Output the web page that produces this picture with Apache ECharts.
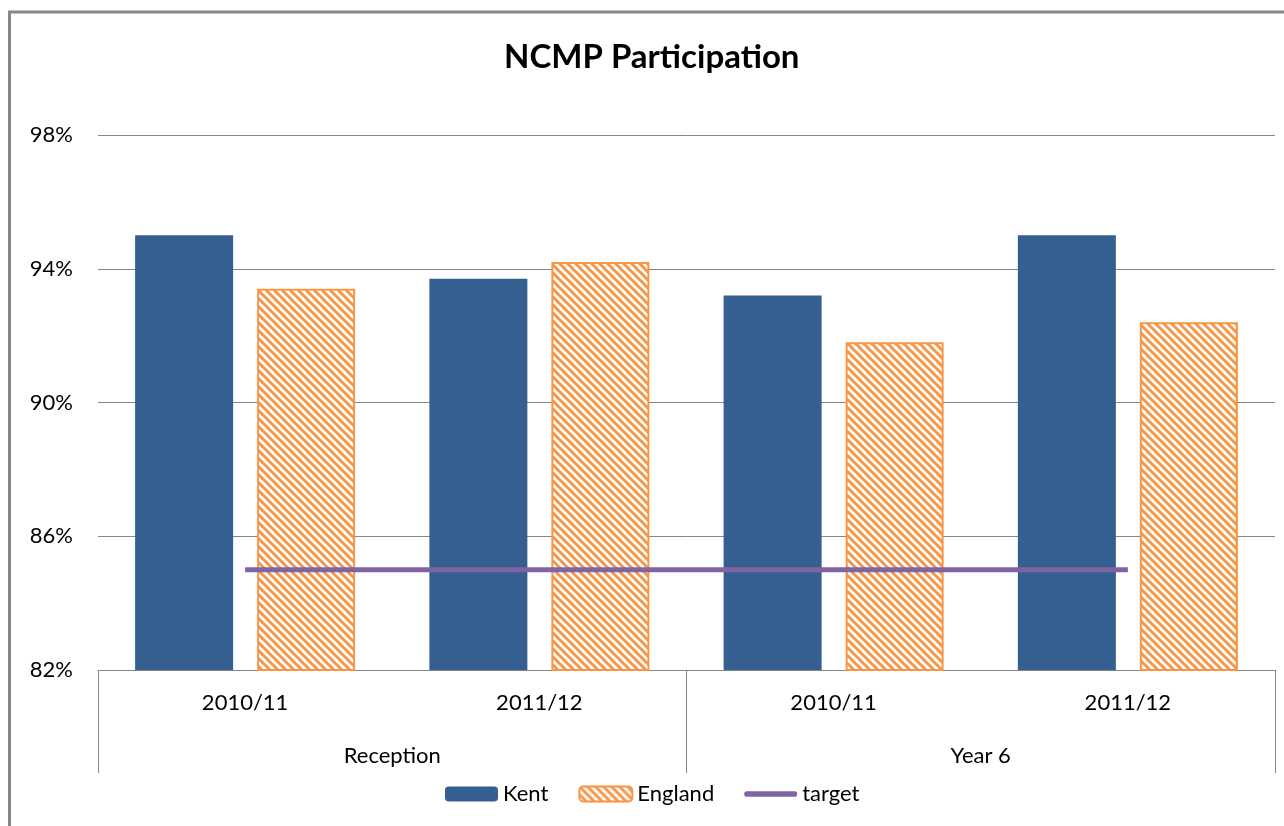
<!DOCTYPE html>
<html>
<head>
<meta charset="utf-8">
<script src="https://cdn.jsdelivr.net/npm/echarts@6/dist/echarts.min.js"></script>
<style>
html,body{margin:0;padding:0;background:#fff;}
#chart{width:1284px;height:826px;}
</style>
</head>
<body>
<div id="chart"></div>
<script>
var years = ['2010/11', '2011/12', '2010/11', '2011/12'];
var groups = ['Reception', 'Year 6'];
var kent = [95.0, 93.7, 93.2, 95.0];
var england = [93.4, 94.2, 91.8, 92.4];
var target = [85, 85, 85, 85];

var FONT = 'Lato, "Open Sans", sans-serif';
var GRAY = '#868686';

// hatched pattern for England
var tile = document.createElement('canvas');
tile.width = 8; tile.height = 8;
var ctx = tile.getContext('2d');
ctx.fillStyle = '#ffffff';
ctx.fillRect(0, 0, 8, 8);
ctx.strokeStyle = '#F79646';
ctx.lineWidth = 3;
for (var k = -8; k <= 8; k += 8) {
  ctx.beginPath();
  ctx.moveTo(k - 1, -1);
  ctx.lineTo(k + 9, 9);
  ctx.stroke();
}

var chart = echarts.init(document.getElementById('chart'), null, {renderer: 'canvas'});
chart.setOption({
  backgroundColor: '#ffffff',
  animation: false,
  title: {
    text: 'NCMP Participation',
    left: 504,
    top: 41,
    padding: 0,
    textStyle: {fontFamily: FONT, fontSize: 33, fontWeight: 'bold', color: '#000'}
  },
  graphic: [{
    type: 'rect',
    silent: true,
    shape: {x: 9.5, y: 12, width: 1400, height: 900},
    style: {fill: 'none', stroke: GRAY, lineWidth: 3}
  }],
  legend: {
    left: 445,
    top: 783,
    padding: 0,
    itemWidth: 53,
    itemHeight: 15,
    itemGap: 30,
    textStyle: {fontFamily: FONT, fontSize: 22, color: '#000'},
    data: [
      {name: 'Kent'},
      {name: 'England'},
      {name: 'target', icon: 'path://M3,0 L53,0 A3,3 0 0 1 53,6 L3,6 A3,3 0 0 1 3,0 Z', itemStyle: {color: '#8064A2'}}
    ]
  },
  grid: {left: 98, right: 9, top: 135, bottom: 156, containLabel: false},
  xAxis: [{
    type: 'category',
    data: years,
    position: 'bottom',
    axisLine: {show: true, lineStyle: {color: GRAY, width: 1}},
    axisTick: {show: false},
    axisLabel: {fontFamily: FONT, fontSize: 22, color: '#000', margin: 22},
    splitLine: {show: false}
  }, {
    type: 'category',
    data: groups,
    position: 'bottom',
    axisLine: {show: false},
    axisTick: {show: true, length: 103, lineStyle: {color: GRAY, width: 1}},
    axisLabel: {fontFamily: FONT, fontSize: 22, color: '#000', margin: 75},
    splitLine: {show: false}
  }],
  yAxis: {
    type: 'value',
    min: 82,
    max: 98,
    interval: 4,
    axisLine: {show: false},
    axisTick: {show: false},
    axisLabel: {fontFamily: FONT, fontSize: 22, color: '#000', margin: 25, formatter: '{value}%'},
    splitLine: {show: true, lineStyle: {color: GRAY, width: 1}}
  },
  series: [{
    name: 'Kent',
    type: 'bar',
    xAxisIndex: 0,
    data: kent,
    barWidth: 98,
    barGap: '24.5%',
    itemStyle: {color: '#365F91'}
  }, {
    name: 'England',
    type: 'bar',
    xAxisIndex: 0,
    data: england,
    barWidth: 98,
    barGap: '24.5%',
    itemStyle: {color: {image: tile, repeat: 'repeat'}, borderColor: '#F79646', borderWidth: 2}
  }, {
    name: 'target',
    type: 'line',
    xAxisIndex: 0,
    data: target,
    symbol: 'none',
    z: 5,
    lineStyle: {color: '#8064A2', width: 5},
    itemStyle: {color: '#8064A2'}
  }]
});
</script>
</body>
</html>
